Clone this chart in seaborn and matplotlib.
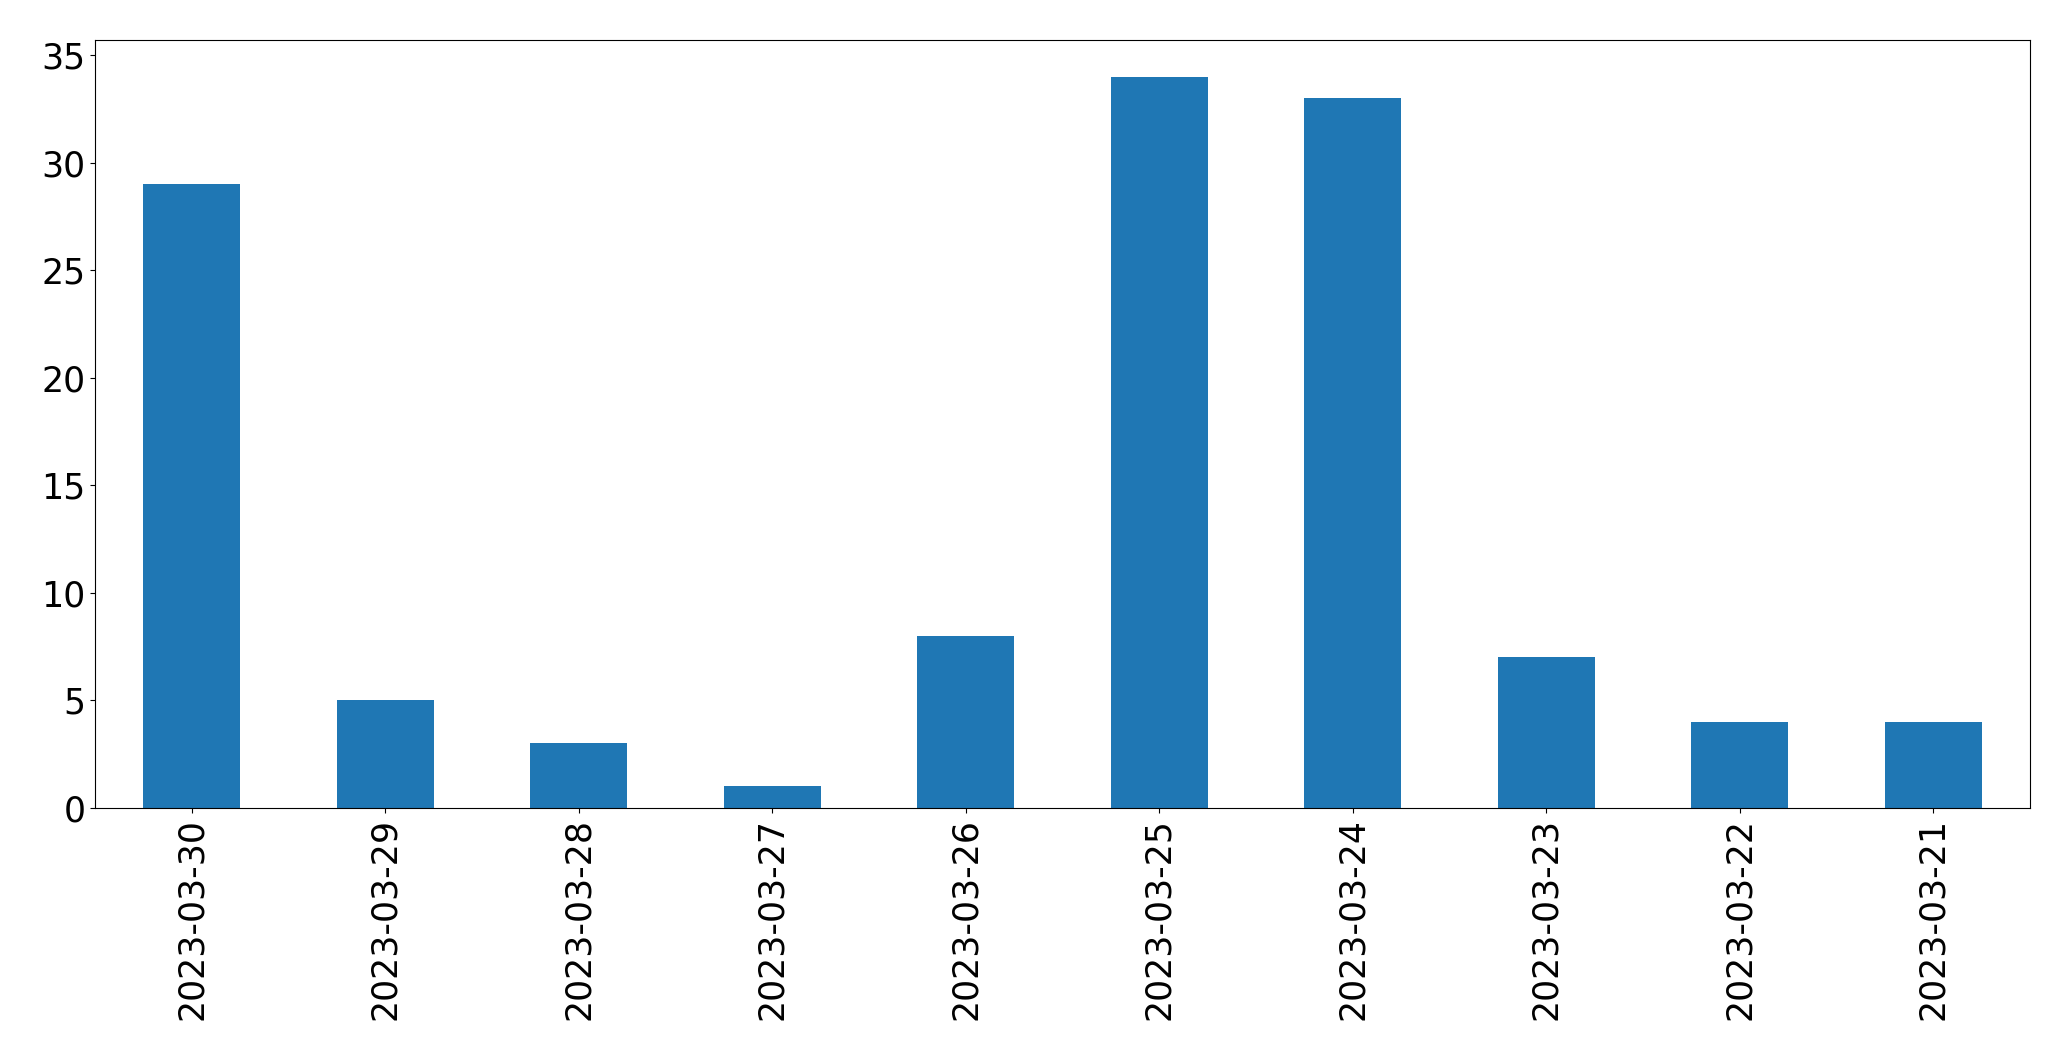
import matplotlib
matplotlib.use("Agg")
import matplotlib.pyplot as plt
import seaborn as sns
import pandas as pd

dates = ["2023-03-30", "2023-03-29", "2023-03-28", "2023-03-27", "2023-03-26",
         "2023-03-25", "2023-03-24", "2023-03-23", "2023-03-22", "2023-03-21"]
counts = [29, 5, 3, 1, 8, 34, 33, 7, 4, 4]

df = pd.DataFrame({"date": dates, "count": counts})

fig = plt.figure(figsize=(20.71, 10.61), dpi=100)
ax = fig.add_axes([0.0459, 0.2385, 0.9343, 0.7238])

sns.barplot(data=df, x="date", y="count", color="#1f77b4", saturation=1,
            width=0.5, order=dates, ax=ax)

ax.set_xlabel("")
ax.set_ylabel("")
ax.set_ylim(0, 35.7)
ax.set_xlim(-0.5, len(dates) - 0.5)
ax.tick_params(axis="both", labelsize=25)
for s in ax.spines.values():
    s.set_color("black")
plt.setp(ax.get_xticklabels(), rotation=90)

fig.savefig("out.png", dpi=100)
